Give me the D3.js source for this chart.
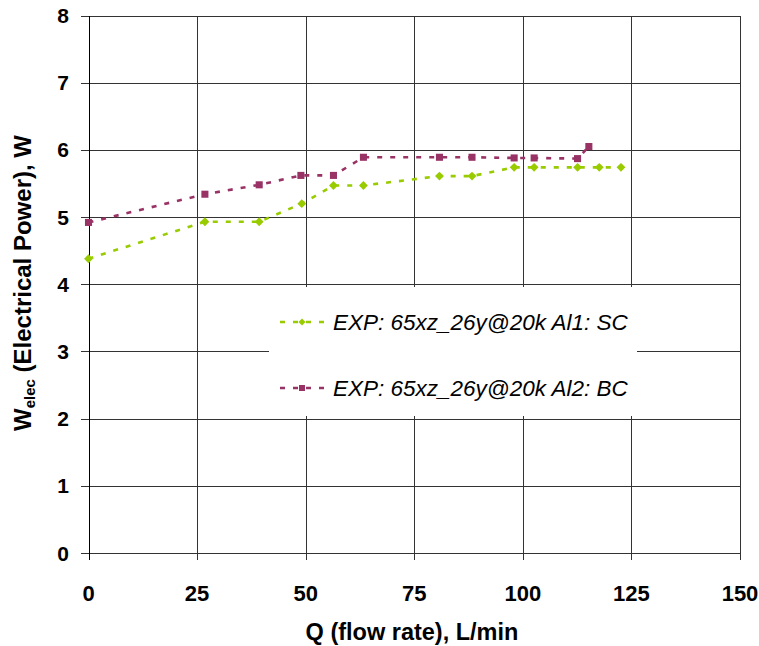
<!DOCTYPE html>
<html>
<head>
<meta charset="utf-8">
<script src="https://cdn.jsdelivr.net/npm/d3@7"></script>
<style>
  html, body { margin: 0; padding: 0; background: #fff; }
  svg { display: block; font-family: "Liberation Sans", Arial, sans-serif; }
</style>
</head>
<body>
<svg id="chart" width="759" height="646"></svg>
<script>
// Flow rate (L/min) and electrical power (W) for the two configurations
const scFlow  = [0, 26.8, 39.3, 49.1, 56.4, 63.3, 80.8, 88.3, 98.0, 102.6, 112.6, 117.6, 122.6];
const scPower = [4.38, 4.93, 4.93, 5.20, 5.47, 5.47, 5.61, 5.61, 5.74, 5.74, 5.74, 5.74, 5.74];
const bcFlow  = [0, 26.8, 39.3, 48.9, 56.4, 63.3, 80.8, 88.3, 98.0, 102.6, 112.6, 115.2];
const bcPower = [4.92, 5.34, 5.48, 5.62, 5.62, 5.89, 5.89, 5.89, 5.88, 5.88, 5.87, 6.05];

const xTicks = [0, 25, 50, 75, 100, 125, 150];
const yTicks = [0, 1, 2, 3, 4, 5, 6, 7, 8];

const seriesNames = ["EXP: 65xz_26y@20k Al1: SC", "EXP: 65xz_26y@20k Al2: BC"];
const seriesColors = ["#99CC00", "#993366"];
const diamond = d3.symbolDiamond2 || d3.symbolDiamond;
const seriesShapes = [diamond, d3.symbolSquare];

const svg = d3.select("#chart");
const plotLeft = 88.5, plotRight = 740, plotTop = 15.5, plotBottom = 553;

const x = d3.scaleLinear().domain([0, 150]).range([plotLeft, plotRight]);
const y = d3.scaleLinear().domain([0, 8]).range([plotBottom, plotTop]);

// gridlines
const grid = svg.append("g").attr("shape-rendering", "crispEdges");
grid.selectAll("line.h").data(yTicks).join("line")
  .attr("x1", plotLeft - 8).attr("x2", plotRight)
  .attr("y1", d => Math.round(y(d)) + 0.5).attr("y2", d => Math.round(y(d)) + 0.5)
  .attr("stroke", "#333").attr("stroke-width", 1);
grid.selectAll("line.v").data(xTicks).join("line")
  .attr("x1", d => Math.round(x(d)) + 0.5).attr("x2", d => Math.round(x(d)) + 0.5)
  .attr("y1", plotTop).attr("y2", plotBottom + 7)
  .attr("stroke", "#333").attr("stroke-width", 1);

// y axis line
svg.append("line")
  .attr("x1", Math.round(plotLeft) + 0.5).attr("x2", Math.round(plotLeft) + 0.5)
  .attr("y1", plotTop).attr("y2", plotBottom + 7)
  .attr("stroke", "#000").attr("shape-rendering", "crispEdges");

// legend backdrop (covers the gridlines behind it)
svg.append("rect")
  .attr("x", 269).attr("y", 287).attr("width", 368).attr("height", 129)
  .attr("fill", "#fff");

// tick labels
svg.append("g").selectAll("text").data(yTicks).join("text")
  .attr("x", 69).attr("y", d => y(d))
  .attr("dy", "0.36em")
  .attr("text-anchor", "end")
  .attr("font-size", 21).attr("font-weight", "bold")
  .text(d => d);

svg.append("g").selectAll("text").data(xTicks).join("text")
  .attr("x", d => x(d)).attr("y", 601)
  .attr("text-anchor", "middle")
  .attr("font-size", 22).attr("font-weight", "bold")
  .text(d => d);

// axis titles
svg.append("text")
  .attr("x", 412).attr("y", 640)
  .attr("text-anchor", "middle")
  .attr("font-size", 23.5).attr("font-weight", "bold")
  .text("Q (flow rate), L/min");

const yt = svg.append("text")
  .attr("transform", `translate(31, 283) rotate(-90)`)
  .attr("text-anchor", "middle")
  .attr("font-size", 24).attr("font-weight", "bold");
yt.append("tspan").text("W");
yt.append("tspan").attr("font-size", 15).attr("dy", 4).text("elec");
yt.append("tspan").attr("dy", -4).text(" (Electrical Power), W");

// series
const series = [
  { flow: scFlow, power: scPower },
  { flow: bcFlow, power: bcPower }
];

const line = d3.line().x(d => x(d[0])).y(d => y(d[1]));

series.forEach((s, i) => {
  const pts = s.flow.map((f, k) => [f, s.power[k]]);
  svg.append("path")
    .datum(pts)
    .attr("d", line)
    .attr("fill", "none")
    .attr("stroke", seriesColors[i])
    .attr("stroke-width", 2.6)
    .attr("stroke-dasharray", "5,8");
  svg.append("g").selectAll("path").data(pts).join("path")
    .attr("transform", d => `translate(${x(d[0])},${y(d[1])})`)
    .attr("d", d3.symbol().type(seriesShapes[i]).size(i === 0 ? 50 : 50))
    .attr("fill", seriesColors[i]);
});

// legend
const legendRows = [322, 388];
seriesNames.forEach((name, i) => {
  const g = svg.append("g").attr("transform", `translate(0, ${legendRows[i]})`);
  g.append("line")
    .attr("x1", 280).attr("x2", 326).attr("y1", 0).attr("y2", 0)
    .attr("stroke", seriesColors[i]).attr("stroke-width", 2.6)
    .attr("stroke-dasharray", "5,8");
  g.append("path")
    .attr("transform", "translate(302,0)")
    .attr("d", d3.symbol().type(seriesShapes[i]).size(i === 0 ? 32 : 36))
    .attr("fill", seriesColors[i]);
  g.append("text")
    .attr("x", 333).attr("y", 0).attr("dy", "0.36em")
    .attr("font-size", 22.5).attr("font-style", "italic")
    .text(name);
});
</script>
</body>
</html>
